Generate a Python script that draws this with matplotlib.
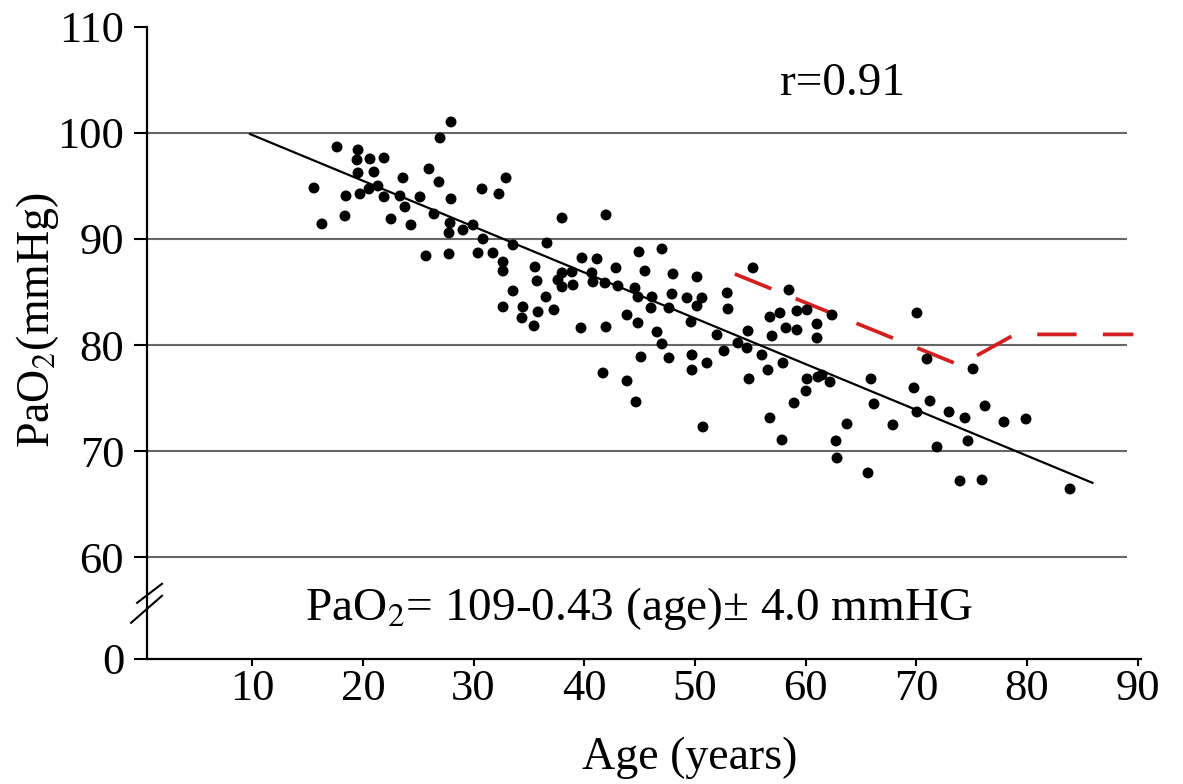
import numpy as np
import matplotlib
matplotlib.use("Agg")
import matplotlib.pyplot as plt

plt.rcParams['font.family'] = ['Liberation Serif', 'DejaVu Serif']
plt.rcParams['mathtext.fontset'] = 'stix'

# 산점도 데이터 (나이, PaO2) - 그림에서 읽은 값
age = [27.96, 26.97, 17.66, 19.56, 19.47, 20.64, 21.91, 19.56, 21.00, 25.97,
       23.62, 26.87, 32.93, 15.58, 21.36, 20.55, 30.76, 32.29, 18.47, 19.74,
       21.91, 23.35, 25.16, 27.96, 23.80, 18.38, 22.54, 16.30, 24.34, 26.42,
       27.87, 27.78, 29.04, 29.95, 30.85, 33.56, 36.63, 25.70, 27.78, 30.40,
       31.75, 32.66, 32.66, 35.55, 35.73, 33.56, 37.99, 41.96, 32.66, 34.46,
       34.37, 35.82, 36.54, 37.26, 35.46, 37.99, 38.89, 37.99, 38.98, 37.62,
       39.79, 41.15, 40.69, 40.78, 41.87, 43.04, 42.86, 44.94, 47.02, 45.48,
       48.01, 50.18, 44.58, 44.85, 46.12, 46.03, 47.92, 49.28, 50.63, 50.18,
       47.65, 43.86, 44.85, 39.70, 41.96, 49.64, 46.57, 47.02, 45.12, 47.65,
       49.73, 49.73, 51.08, 41.69, 43.86, 44.67, 55.24, 52.91, 52.98, 58.49,
       56.77, 57.68, 59.21, 60.12, 62.38, 54.79, 58.22, 59.21, 61.02, 61.02,
       56.96, 51.99, 52.62, 53.88, 54.70, 56.05, 57.95, 56.59, 54.88, 60.12,
       61.11, 62.20, 60.03, 65.90, 70.05, 70.96, 69.78, 71.23, 70.05, 66.17,
       58.95, 50.72, 56.77, 63.73, 67.88, 57.86, 62.74, 62.83, 71.86, 75.12,
       72.95, 74.39, 76.20, 77.91, 79.90, 74.66, 73.94, 75.93, 83.88, 65.63,
       61.47]
pao2 = [101.04, 99.53, 98.68, 98.40, 97.46, 97.55, 97.64, 96.23, 96.32, 96.61,
        95.76, 95.38, 95.76, 94.81, 95.00, 94.72, 94.72, 94.25, 94.06, 94.25,
        93.97, 94.06, 93.97, 93.78, 93.02, 92.17, 91.89, 91.42, 91.32, 92.36,
        91.51, 90.57, 90.85, 91.32, 90.00, 89.44, 89.62, 88.40, 88.59, 88.68,
        88.68, 87.83, 86.98, 87.36, 86.04, 85.10, 91.98, 92.27, 83.59, 83.59,
        82.55, 83.12, 84.53, 83.31, 81.80, 86.80, 86.89, 85.48, 85.66, 86.13,
        88.21, 88.12, 86.80, 85.95, 85.85, 85.57, 87.27, 88.78, 89.06, 86.98,
        86.70, 86.42, 85.38, 84.53, 84.53, 83.49, 84.81, 84.44, 84.44, 83.68,
        83.49, 82.83, 82.08, 81.61, 81.70, 82.17, 81.23, 80.10, 78.87, 78.78,
        79.06, 77.64, 78.30, 77.36, 76.61, 74.63, 87.27, 84.91, 83.40, 85.19,
        82.64, 83.02, 83.21, 83.31, 82.83, 81.32, 81.61, 81.42, 81.98, 80.66,
        80.85, 80.95, 79.44, 80.19, 79.72, 79.06, 78.30, 77.64, 76.80, 76.80,
        76.98, 76.51, 75.66, 76.80, 83.02, 78.68, 75.95, 74.72, 73.68, 74.44,
        74.53, 72.27, 73.12, 72.55, 72.46, 71.04, 70.95, 69.34, 70.38, 77.74,
        73.68, 73.12, 74.25, 72.74, 73.02, 70.95, 67.17, 67.27, 66.42, 67.93,
        77.17]

# 회귀선 끝점
fit_age = [9.8, 85.9]
fit_pao2 = [99.9, 67.0]

# 빨간 점선
red_age = [53.6, 73.9, 78.9, 89.6]
red_pao2 = [86.7, 78.1, 81.0, 81.0]

grid_levels = [60, 70, 80, 90, 100]
y_ticks = [50.4, 60, 70, 80, 90, 100, 110]
y_labels = ["0", "60", "70", "80", "90", "100", "110"]
x_ticks = [10, 20, 30, 40, 50, 60, 70, 80, 90]

fig = plt.figure(figsize=(11.83, 7.84), dpi=100)
ax = fig.add_axes([0.1243, 0.1597, 0.8403, 0.8059])

ax.hlines(grid_levels, 0.5, 89.0, color='#666666', lw=1.5, zorder=1)
ax.plot(fit_age, fit_pao2, color='black', lw=1.6, zorder=2)
ax.plot(red_age, red_pao2, color='#d42020', lw=2.7, dashes=(10.5, 7.0), zorder=3)
ax.scatter(age, pao2, s=62, color='black', edgecolors='none', zorder=4)

ax.set_xlim(0.5, 90.3)
ax.set_ylim(50.4, 110)
ax.set_xticks(x_ticks)
ax.set_yticks(y_ticks)
ax.set_yticklabels(y_labels)

for s in ['top', 'right']:
    ax.spines[s].set_visible(False)
for s in ['left', 'bottom']:
    ax.spines[s].set_linewidth(1.6)

ax.tick_params(axis='y', length=9.5, width=1.5, pad=7, labelsize=32)
ax.tick_params(axis='x', length=5, width=1.5, pad=2, labelsize=32)

# 축 끊김 표시
for (x0, y0, x1, y1) in [(-0.010, 0.0886, 0.015, 0.1187), (-0.016, 0.057, 0.015, 0.0997)]:
    ax.plot([x0, x1], [y0, y1], transform=ax.transAxes, color='black',
            lw=1.5, clip_on=False, zorder=5)

ax.text(57.7, 103.6, "r=0.91", fontsize=34, ha='left', va='baseline')
ax.text(14.8, 54.1, "PaO$_2$= 109-0.43 (age)\u00b1 4.0 mmHG", fontsize=34,
        ha='left', va='baseline')

fig.text(0.032, 0.592, "PaO$_2$(mmHg)", rotation=90, fontsize=33,
         ha='center', va='center')
fig.text(0.583, 0.034, "Age (years)", fontsize=33, ha='center', va='center')

fig.savefig("out.png", dpi=100)
